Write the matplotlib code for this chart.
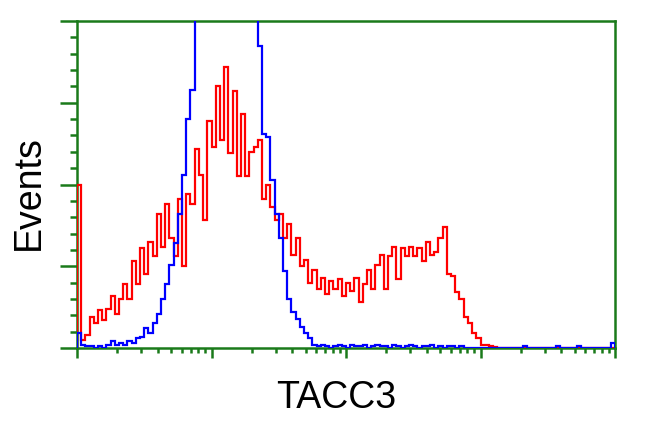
import numpy as np
import matplotlib
matplotlib.use("Agg")
from matplotlib import pyplot as plt
from matplotlib.ticker import MultipleLocator, LogLocator, NullFormatter

# 128 log-spaced channels over 4 decades
red_counts = [
    100, 5, 8, 19, 15, 23, 17, 24, 32, 21,
    30, 39, 30, 53, 39, 61, 45, 65, 56, 82,
    62, 88, 67, 56, 91, 50, 94, 88, 122, 106,
    78, 139, 123, 160, 127, 172, 119, 157, 105, 143,
    105, 120, 123, 127, 91, 100, 86, 78, 82, 67,
    76, 57, 67, 50, 54, 40, 48, 36, 43, 33,
    41, 36, 42, 32, 40, 35, 43, 28, 39, 48,
    36, 51, 57, 36, 56, 62, 42, 61, 56, 62,
    56, 61, 53, 65, 57, 59, 67, 74, 45, 44,
    34, 30, 19, 15, 9, 6, 2, 2, 1, 0.5,
    0, 0, 0, 0, 0, 0, 0, 0, 0, 0,
    0, 0, 0, 0, 0, 0, 0, 0, 0, 0,
    0, 0, 0, 0, 0, 0, 0, 0,
]
blue_counts = [
    9, 2, 1, 1, 0, 1, 0, 2, 4, 2,
    3, 2, 4, 3, 6, 7, 12, 9, 15, 21,
    30, 39, 51, 64, 82, 106, 140, 158, 230, 260,
    290, 310, 330, 340, 345, 340, 330, 320, 300, 280,
    260, 240, 220, 185, 131, 129, 103, 82, 67, 47,
    30, 22, 18, 13, 9, 6, 2, 1, 2, 1,
    0, 1, 2, 1, 0, 2, 1, 1, 2, 0,
    1, 2, 1, 1, 0, 2, 1, 0, 1, 2,
    1, 0, 1, 1, 2, 0, 1, 0, 1, 1,
    0, 1, 0, 0, 0, 0, 0, 0, 0, 0,
    0, 0, 0, 0, 0, 0, 1, 0, 0, 0,
    0, 0, 0, 0, 1, 0, 0, 0, 0, 1,
    0, 0, 0, 0, 0, 0, 0, 3,
]
x_label = "TACC3"
y_label = "Events"

green = "#1a7a1a"
edges = np.logspace(0, 4, len(red_counts) + 1)

fig = plt.figure(figsize=(6.5, 4.31), dpi=100)
ax = fig.add_axes([77 / 650, 1 - 349 / 431, 538 / 650, 327 / 431])

ax.stairs(red_counts, edges, color="red", linewidth=1.6, zorder=3)
ax.stairs(blue_counts, edges, color="blue", linewidth=1.6, zorder=4)

ax.set_xscale("log")
ax.set_xlim(1, 1e4)
ax.set_ylim(0, 200)
ax.xaxis.set_major_locator(LogLocator(base=10, numticks=10))
ax.xaxis.set_minor_locator(LogLocator(base=10, subs=np.arange(2, 10), numticks=50))
ax.xaxis.set_major_formatter(NullFormatter())
ax.xaxis.set_minor_formatter(NullFormatter())
ax.yaxis.set_major_locator(MultipleLocator(50))
ax.yaxis.set_minor_locator(MultipleLocator(10))
ax.yaxis.set_major_formatter(NullFormatter())

for s in ax.spines.values():
    s.set_color(green)
    s.set_linewidth(1.8)
ax.tick_params(axis="both", which="both", direction="out", color=green, width=1.8)
ax.tick_params(axis="y", which="major", length=12)
ax.tick_params(axis="y", which="minor", length=5)
ax.tick_params(axis="x", which="major", length=7)
ax.tick_params(axis="x", which="minor", length=3.5)

fig.text(336 / 650, 1 - 408 / 431, x_label, ha="center", va="baseline",
         fontsize=27, family="Liberation Sans")
fig.text(29 / 650, 1 - 193 / 431, y_label, ha="center", va="center",
         rotation=90, fontsize=27, family="Liberation Sans")

plt.savefig("out.png", dpi=100)
